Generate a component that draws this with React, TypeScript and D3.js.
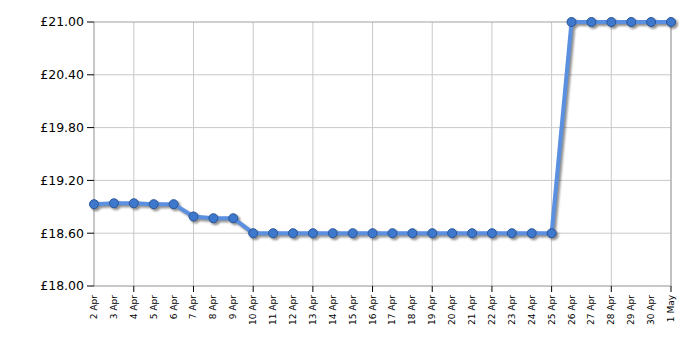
import React from "react";
import * as d3 from "d3";

const dates: string[] = [
  "2 Apr","3 Apr","4 Apr","5 Apr","6 Apr","7 Apr","8 Apr","9 Apr","10 Apr","11 Apr",
  "12 Apr","13 Apr","14 Apr","15 Apr","16 Apr","17 Apr","18 Apr","19 Apr","20 Apr","21 Apr",
  "22 Apr","23 Apr","24 Apr","25 Apr","26 Apr","27 Apr","28 Apr","29 Apr","30 Apr","1 May",
];
const prices: number[] = [
  18.93,18.94,18.94,18.93,18.93,18.79,18.77,18.77,18.60,18.60,
  18.60,18.60,18.60,18.60,18.60,18.60,18.60,18.60,18.60,18.60,
  18.60,18.60,18.60,18.60,21.00,21.00,21.00,21.00,21.00,21.00,
];
const yTicks: number[] = [18.0, 18.6, 19.2, 19.8, 20.4, 21.0];
const gridDates: string[] = ["4 Apr","7 Apr","10 Apr","13 Apr","16 Apr","19 Apr","22 Apr","25 Apr","28 Apr","1 May"];

const W = 700, H = 350;
const M = { left: 94, right: 29, top: 22, bottom: 64 };

export default function App() {
  const x = d3.scalePoint<string>().domain(dates).range([M.left, W - M.right]);
  const y = d3.scaleLinear().domain([18, 21]).range([H - M.bottom, M.top]);
  const line = d3.line<number>().x((_, i) => x(dates[i])!).y((d) => y(d));
  const path = line(prices)!;
  const font = "Verdana, 'DejaVu Sans', sans-serif";
  return (
    <svg width={W} height={H} style={{ position: "absolute", left: 0, top: 0 }}>
      <defs>
        <filter id="sh" x="-20%" y="-20%" width="140%" height="140%">
          <feGaussianBlur stdDeviation="1.2" />
        </filter>
      </defs>
      <rect x={0} y={0} width={W} height={H} fill="#fff" />
      {yTicks.slice(1, -1).map((t) => (
        <line key={t} x1={M.left} x2={W - M.right} y1={y(t)} y2={y(t)} stroke="#c8c8c8" />
      ))}
      {gridDates.map((d) => (
        <line key={d} x1={x(d)} x2={x(d)} y1={M.top} y2={H - M.bottom} stroke="#c8c8c8" />
      ))}
      <line x1={M.left} x2={W - M.right} y1={y(21)} y2={y(21)} stroke="#a0a0a0" />
      <line x1={W - M.right} x2={W - M.right} y1={M.top} y2={H - M.bottom} stroke="#a0a0a0" />
      <line x1={M.left} x2={M.left} y1={M.top} y2={H - M.bottom} stroke="#909090" />
      <line x1={M.left} x2={W - M.right} y1={H - M.bottom} y2={H - M.bottom} stroke="#909090" />
      {yTicks.map((t) => (
        <g key={t}>
          <line x1={M.left - 7} x2={M.left} y1={y(t)} y2={y(t)} stroke="#000" />
          <text x={M.left - 10} y={y(t)} dy="0.35em" textAnchor="end" fontFamily={font} fontSize={12.5} fill="#000">
            {"£" + t.toFixed(2)}
          </text>
        </g>
      ))}
      {gridDates.map((d) => (
        <line key={d} x1={x(d)} x2={x(d)} y1={H - M.bottom} y2={H - M.bottom + 6} stroke="#000" />
      ))}
      {dates.map((d) => (
        <text key={d} transform={`translate(${x(d)! + 3},${H - M.bottom + 9}) rotate(-90)`} textAnchor="end"
          fontFamily={font} fontSize={9} fill="#000">
          {d}
        </text>
      ))}
      <g transform="translate(2,2)" filter="url(#sh)" opacity={0.55}>
        <path d={path} fill="none" stroke="#333" strokeWidth={4} />
        {prices.map((p, i) => (
          <circle key={i} cx={x(dates[i])} cy={y(p)} r={5} fill="#333" />
        ))}
      </g>
      <path d={path} fill="none" stroke="#5b8fe0" strokeWidth={4} strokeLinejoin="round" />
      {prices.map((p, i) => (
        <circle key={i} cx={x(dates[i])} cy={y(p)} r={4.5} fill="#3d78cc" stroke="#2a569a" strokeWidth={1} />
      ))}
    </svg>
  );
}
